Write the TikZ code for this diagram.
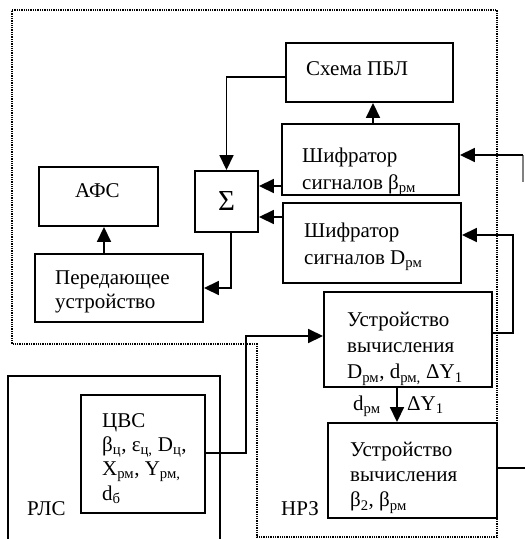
\documentclass[tikz,border=0pt]{standalone}
\usepackage{fontspec}
\setmainfont{Liberation Serif}
\usetikzlibrary{arrows.meta}

\begin{document}
\begin{tikzpicture}[x=1pt,y=-1pt,
blok/.style={draw,line width=1.9pt,inner sep=0pt},
txt/.style={inner sep=0pt,align=left,font=\fontsize{21}{26}\selectfont},
ln/.style={line width=1.7pt},
arr/.style={line width=1.7pt,-{Triangle[length=15pt,width=14pt]}},
granica/.style={line width=1.3pt,densely dotted}]
\useasboundingbox(0,0)rectangle(525,539);
\draw[granica](12,10)--(497,10)--(497,537)--(257,537)--(257,344)--(12,344)--cycle;
\draw[ln](8,545)|-(220,376)--(220,545);
\node[blok,minimum width=167pt,minimum height=59pt](pbl)at(369.5,72.5){};
\node[blok,minimum width=177pt,minimum height=71pt](shb)at(370.5,159.5){};
\node[blok,minimum width=178pt,minimum height=80pt](shd)at(372,243){};
\node[blok,minimum width=63pt,minimum height=61pt,font=\fontsize{29}{29}\selectfont](sum)at(226.5,201.5){Σ};
\node[blok,minimum width=119pt,minimum height=59pt](afs)at(98.5,196.5){};
\node[blok,minimum width=168pt,minimum height=68pt](per)at(119,288){};
\node[blok,minimum width=168pt,minimum height=95pt](uvd)at(408,339.5){};
\node[blok,minimum width=169pt,minimum height=95pt](uvb)at(412.5,470.5){};
\node[blok,minimum width=124pt,minimum height=118pt](cvs)at(143,454){};
\node[txt,anchor=base west](tpbl)at(306,75){Схема ПБЛ};
\node[txt,anchor=north west,font=\fontsize{21}{27}\selectfont](tshb)at(302,147.7){Шифратор\\сигналов β\textsubscript{рм}};
\node[txt,anchor=north west,font=\fontsize{21}{27}\selectfont](tshd)at(304,222.7){Шифратор\\сигналов D\textsubscript{рм}};
\node[txt,anchor=base west](tafs)at(75,197){АФС};
\node[txt,anchor=north west,font=\fontsize{21}{23.5}\selectfont](tper)at(55,270.7){Передающее\\устройство};
\node[txt,anchor=north west](tuvd)at(347,312.4){Устройство\\вычисления\\D\textsubscript{рм}, d\textsubscript{рм,} ΔY\textsubscript{1}};
\node[txt,anchor=north west,font=\fontsize{21}{25}\selectfont](tuvb)at(350,442.4){Устройство\\вычисления\\β\textsubscript{2}, β\textsubscript{рм}};
\node[txt,anchor=north west,font=\fontsize{21}{24.3}\selectfont](tcvs)at(102,413){ЦВС\\β\textsubscript{ц}, ε\textsubscript{ц,} D\textsubscript{ц},\\X\textsubscript{рм}, Y\textsubscript{рм,}\\d\textsubscript{б}};
\node[txt,anchor=base west](rls)at(27,515){РЛС};
\node[txt,anchor=base west](nrz)at(281,515){НРЗ};
\node[txt,anchor=base west](ldrm)at(353,410.7){d\textsubscript{рм}};
\node[txt,anchor=base west](ldy)at(407,410.7){ΔY\textsubscript{1}};
\coordinate(vhod)at(523,155);
\coordinate(vyhod)at(525,468);
\draw[ln,gray](523,155)--(523,182);
\draw[arr](pbl.west|-0,77)-|(sum.north);
\draw[arr](shb.north-|373,0)--(pbl.south-|373,0);
\draw[arr](shb.west|-0,186)--(sum.east|-0,186);
\draw[arr](shd.west|-0,217)--(sum.east|-0,217);
\draw[arr](sum.south-|231,0)|-(per.east);
\draw[arr](per.north-|104,0)--(afs.south-|104,0);
\draw[arr](vhod)--(shb.east|-vhod);
\draw[arr](uvd.east|-0,333)-|(513,235)--(shd.east|-0,235);
\draw[arr](cvs.east|-0,453)-|(246,336)--(uvd.west|-0,336);
\draw[arr](uvd.south-|397,0)--(uvb.north-|397,0);
\draw[ln](uvb.east|-vyhod)--(vyhod);
\end{tikzpicture}
\end{document}
